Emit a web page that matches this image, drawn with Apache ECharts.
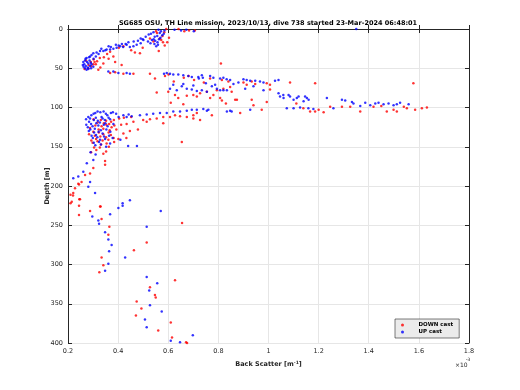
<!DOCTYPE html>
<html><head><meta charset="utf-8">
<script src="https://cdn.jsdelivr.net/npm/echarts@6/dist/echarts.min.js"></script>
<style>html,body{margin:0;padding:0;background:#fff}#c{width:520px;height:390px}</style>
</head><body><div id="c"></div>
<script>
// Values: [back scatter (x1e-3 m^-1), depth (m)]
const titleText = 'SG685 OSU, TH Line mission, 2023/10/13, dive 738 started 23-Mar-2024 06:48:01';
const xTicks = [0.2, 1.8, 0.2];   // min, max, step (x1e-3)
const yTicks = [0, 400, 50];      // min, max, step
const seriesNames = ['DOWN cast', 'UP cast'];

const downSurface = [[0.555,5],[0.566,12],[0.577,9],[0.584,4],[0.592,0],[0.603,11],[0.596,17],[0.562,28],[0.586,21],[0.541,16],[0.551,3],[0.527,12],[0.641,0],[0.664,3],[0.683,2],[0.706,2],[0.572,14],[0.579,17]];
const downBand = [[0.487,31],[0.467,30],[0.421,22],[0.403,24],[0.381,35],[0.368,29],[0.356,32],[0.343,36],[0.327,37],[0.316,41],[0.306,42],[0.301,45],[0.293,47],[0.281,50],[0.414,46],[0.388,42],[0.341,44],[0.321,52],[0.329,49],[0.272,40],[0.282,46],[0.291,42],[0.302,39],[0.266,51],[0.311,45],[0.452,27],[0.498,24],[0.362,38],[0.81,44]];
const downRow = [[0.368,56],[0.388,55],[0.421,57],[0.461,57],[0.527,57],[0.547,63],[0.587,60],[0.601,58],[0.662,62],[0.681,60],[0.767,63],[0.814,65],[0.84,67],[0.9,68],[0.913,71],[0.933,67],[0.947,70],[0.993,69],[1.006,71],[1.086,68],[1.186,69],[0.847,74],[1.006,77],[0.82,76],[0.622,67],[0.703,65],[0.742,68]];
const downMid = [[0.554,81],[0.6,80],[0.627,84],[0.64,88],[0.674,85],[0.7,84],[0.727,82],[0.754,80],[0.78,84],[0.794,78],[0.714,86],[0.767,88],[0.814,91],[0.874,90],[0.933,90],[0.993,93],[0.94,97],[0.973,103],[1.139,101],[1.166,105],[0.887,107],[0.774,110],[0.7,114],[0.807,88],[0.867,90],[0.853,80],[1.111,95],[1.186,105],[1.2,103],[1.22,106],[1.246,99],[1.293,99],[1.326,99],[1.366,105],[1.419,99],[1.472,105],[1.499,103],[1.512,105],[1.552,101],[1.578,69],[1.612,101],[1.632,100],[1.585,103],[1.54,99],[1.45,98],[0.61,94],[0.66,96],[0.83,95]];
const downLayer100 = [[0.5,116],[0.527,115],[0.554,114],[0.58,112],[0.607,112],[0.627,110],[0.647,111],[0.674,112],[0.7,110],[0.714,107],[0.727,116],[0.58,120],[0.654,144],[0.514,118]];
const downCluster = [[0.302,115],[0.318,119],[0.331,116],[0.343,120],[0.352,117],[0.364,121],[0.372,118],[0.383,116],[0.404,114],[0.423,113],[0.452,112],[0.288,126],[0.309,123],[0.322,128],[0.334,124],[0.341,127],[0.353,122],[0.366,129],[0.374,125],[0.385,123],[0.393,128],[0.412,122],[0.434,121],[0.461,118],[0.284,134],[0.301,131],[0.307,136],[0.323,132],[0.329,137],[0.341,134],[0.352,138],[0.362,132],[0.371,135],[0.382,139],[0.421,133],[0.447,130],[0.479,128],[0.293,142],[0.298,145],[0.312,140],[0.318,143],[0.332,147],[0.338,142],[0.354,146],[0.361,141],[0.384,144],[0.401,140],[0.433,139],[0.304,151],[0.313,154],[0.327,151],[0.352,156],[0.363,150],[0.341,159],[0.292,157]];
const downTrail = [[0.301,177],[0.288,184],[0.268,186],[0.254,195],[0.241,197],[0.228,203],[0.221,209],[0.248,217],[0.215,220],[0.328,226],[0.348,173],[0.348,168],[0.244,198],[0.21,211],[0.245,217],[0.244,225],[0.22,212]];
const downDeep = [[0.21,222],[0.244,237],[0.288,232],[0.33,226],[0.334,242],[0.365,252],[0.361,262],[0.334,291],[0.341,301],[0.325,310],[0.463,282],[0.514,272],[0.655,247],[0.627,320],[0.527,329],[0.547,339],[0.55,342],[0.474,347],[0.493,356],[0.471,365],[0.61,374],[0.56,384],[0.615,393],[0.671,399],[0.675,400]];

const upSurface = [[0.49,12],[0.51,10],[0.522,7],[0.531,6],[0.542,13],[0.548,15],[0.556,9],[0.566,5],[0.571,3],[0.576,8],[0.529,18],[0.545,19],[0.557,17],[0.563,13],[0.569,11],[0.582,6],[0.585,2],[0.546,10],[0.535,14],[0.561,1],[0.501,14],[0.519,16],[0.541,4],[0.552,22],[0.559,20],[0.625,1],[0.651,2],[0.672,1],[0.702,3],[1.35,0]];
const upBand = [[0.474,20],[0.461,22],[0.447,23],[0.434,20],[0.42,23],[0.408,22],[0.394,24],[0.381,25],[0.368,26],[0.354,26],[0.341,28],[0.328,28],[0.314,30],[0.301,31],[0.294,33],[0.288,35],[0.274,37],[0.268,40],[0.261,42],[0.259,46],[0.262,48],[0.268,50],[0.274,52],[0.281,51],[0.288,47],[0.294,45],[0.27,38],[0.276,42],[0.281,44],[0.286,40],[0.291,43],[0.265,45],[0.271,47],[0.279,49],[0.292,50],[0.301,48],[0.284,36],[0.302,38],[0.311,35],[0.322,32],[0.441,17],[0.462,16],[0.479,15],[0.498,13],[0.43,19],[0.391,20],[0.362,22],[0.333,25],[0.349,27],[0.371,23],[0.402,21],[0.415,19],[0.49,18]];
const upRow = [[0.361,54],[0.381,54],[0.401,56],[0.434,56],[0.447,57],[0.583,57],[0.594,56],[0.607,57],[0.62,58],[0.64,58],[0.66,59],[0.68,60],[0.694,61],[0.72,61],[0.734,59],[0.767,60],[0.78,62],[0.807,63],[0.82,62],[0.833,64],[0.847,65],[0.9,64],[0.913,65],[0.927,66],[0.947,66],[0.966,67],[0.98,68],[1.026,66],[1.04,65],[0.722,63],[0.738,62]];
const upMid = [[0.607,76],[0.634,78],[0.654,73],[0.674,76],[0.694,77],[0.714,79],[0.734,78],[0.754,80],[0.774,73],[0.794,76],[0.82,78],[0.787,71],[0.807,78],[0.834,78],[0.907,76],[0.94,73],[0.98,78],[1.046,86],[1.059,84],[1.086,86],[1.113,88],[1.146,86],[1.153,88],[1.233,88],[1.073,101],[1.1,101],[1.126,100],[1.159,101],[1.179,102],[0.927,103],[0.853,105],[0.754,104],[1.04,82],[1.06,88],[1.08,84],[1.1,90],[1.12,86],[1.14,92],[1.16,90],[0.62,71],[0.66,70],[0.7,72],[0.75,69],[0.86,70],[0.88,68],[1.259,101],[1.293,90],[1.306,91],[1.333,93],[1.339,95],[1.366,98],[1.386,94],[1.406,97],[1.426,95],[1.439,94],[1.459,96],[1.479,95],[1.499,97],[1.512,96],[1.525,94],[1.559,96]];
const upLayer100 = [[0.434,112],[0.454,111],[0.487,110],[0.514,109],[0.54,108],[0.567,107],[0.594,107],[0.62,105],[0.647,105],[0.674,104],[0.694,103],[0.714,103],[0.74,102],[0.76,103],[0.834,105],[0.847,104]];
const upCluster = [[0.281,112],[0.293,110],[0.302,108],[0.309,107],[0.318,105],[0.329,106],[0.342,105],[0.351,108],[0.357,110],[0.371,107],[0.379,106],[0.392,108],[0.272,115],[0.284,118],[0.288,114],[0.303,116],[0.311,113],[0.319,117],[0.334,112],[0.338,114],[0.347,116],[0.362,113],[0.368,115],[0.402,112],[0.421,110],[0.442,109],[0.273,122],[0.279,125],[0.292,121],[0.298,124],[0.313,120],[0.321,123],[0.327,119],[0.343,122],[0.349,120],[0.358,124],[0.381,121],[0.283,130],[0.289,128],[0.304,132],[0.307,127],[0.322,131],[0.331,129],[0.338,133],[0.353,128],[0.369,131],[0.294,136],[0.299,139],[0.312,135],[0.317,138],[0.328,141],[0.344,137],[0.348,140],[0.364,136],[0.378,139],[0.409,141],[0.303,145],[0.309,148],[0.324,144],[0.331,147],[0.352,150],[0.368,146],[0.44,149],[0.475,149]];
const upTrail = [[0.301,167],[0.275,171],[0.261,182],[0.241,188],[0.221,190],[0.288,195],[0.308,209],[0.281,201],[0.31,160],[0.29,157]];
const upDeep = [[0.401,228],[0.418,222],[0.418,225],[0.447,218],[0.368,236],[0.321,244],[0.324,248],[0.297,239],[0.348,259],[0.361,268],[0.374,275],[0.364,283],[0.361,299],[0.348,308],[0.428,291],[0.514,252],[0.57,232],[0.514,316],[0.556,324],[0.524,333],[0.527,352],[0.574,360],[0.507,370],[0.514,380],[0.61,397],[0.647,399],[0.698,390]];

const downCast = [].concat(downSurface, downBand, downRow, downMid, downLayer100, downCluster, downTrail, downDeep);
const upCast = [].concat(upSurface, upBand, upRow, upMid, upLayer100, upCluster, upTrail, upDeep);

const FONT = 'DejaVu Sans';
const AX = '#262626';
const chart = echarts.init(document.getElementById('c'), null, {renderer: 'canvas'});

function baseX(pos, labels) {
  return {
    type: 'value', position: pos, min: xTicks[0], max: xTicks[1], interval: xTicks[2],
    axisLine: {show: true, lineStyle: {color: AX, width: 1}},
    axisTick: {show: true, inside: true, length: 4, lineStyle: {color: AX}},
    axisLabel: {show: labels, fontSize: 6.5, color: AX, fontFamily: FONT, margin: 5},
    splitLine: {show: labels, lineStyle: {color: '#e6e6e6', width: 1}}
  };
}
function baseY(pos, labels) {
  return {
    type: 'value', position: pos, inverse: true, min: yTicks[0], max: yTicks[1], interval: yTicks[2],
    axisLine: {show: true, lineStyle: {color: AX, width: 1}},
    axisTick: {show: true, inside: true, length: 4, lineStyle: {color: AX}},
    axisLabel: {show: labels, fontSize: 6.5, color: AX, fontFamily: FONT, margin: 5},
    splitLine: {show: labels, lineStyle: {color: '#e6e6e6', width: 1}}
  };
}

const xMain = baseX('bottom', true);
xMain.name = 'Back Scatter [m{sup|-1}]';
xMain.nameLocation = 'middle';
xMain.nameGap = 14;
xMain.nameTextStyle = {fontSize: 6.5, fontWeight: 'bold', color: AX, fontFamily: FONT,
  rich: {sup: {fontSize: 4.5, fontWeight: 'bold', color: AX, fontFamily: FONT, verticalAlign: 'top', padding: [0, 0, 4, 0]}}};
const yMain = baseY('left', true);
yMain.name = 'Depth [m]';
yMain.nameLocation = 'middle';
yMain.nameGap = 17;
yMain.nameMoveOverlap = false;
yMain.nameRotate = 90;
yMain.nameTextStyle = {fontSize: 6.5, fontWeight: 'bold', color: AX, fontFamily: FONT};

chart.setOption({
  animation: false,
  backgroundColor: '#ffffff',
  grid: {left: 68, right: 51, top: 29, bottom: 47, containLabel: false},
  xAxis: [xMain, baseX('top', false)],
  yAxis: [yMain, baseY('right', false)],
  legend: {
    left: 395, top: 319, orient: 'vertical',
    data: seriesNames,
    backgroundColor: '#ebebeb', borderColor: AX, borderWidth: 0.6,
    padding: [3, 6, 3, 6], itemGap: 1, itemWidth: 22, itemHeight: 3,
    icon: 'circle',
    textStyle: {fontSize: 5.5, fontWeight: 'bold', color: '#000', fontFamily: FONT}
  },
  graphic: [
    {type: 'text', x: 268, y: 23, style: {text: titleText, textAlign: 'center', textVerticalAlign: 'middle',
      font: 'bold 6.5px "DejaVu Sans"', fill: '#000'}},
    {type: 'text', x: 455, y: 365, style: {text: '×10', textAlign: 'left', textVerticalAlign: 'middle',
      font: '6px "DejaVu Sans"', fill: AX}},
    {type: 'text', x: 466, y: 360, style: {text: '-3', textAlign: 'left', textVerticalAlign: 'middle',
      font: '4.5px "DejaVu Sans"', fill: AX}}
  ],
  series: [
    {name: seriesNames[0], type: 'scatter', xAxisIndex: 0, yAxisIndex: 0, symbol: 'circle', symbolSize: 2.5,
      itemStyle: {color: '#ff0000'}, data: downCast},
    {name: seriesNames[1], type: 'scatter', xAxisIndex: 0, yAxisIndex: 0, symbol: 'circle', symbolSize: 2.5,
      itemStyle: {color: '#0000ff'}, data: upCast}
  ]
});
</script></body></html>
